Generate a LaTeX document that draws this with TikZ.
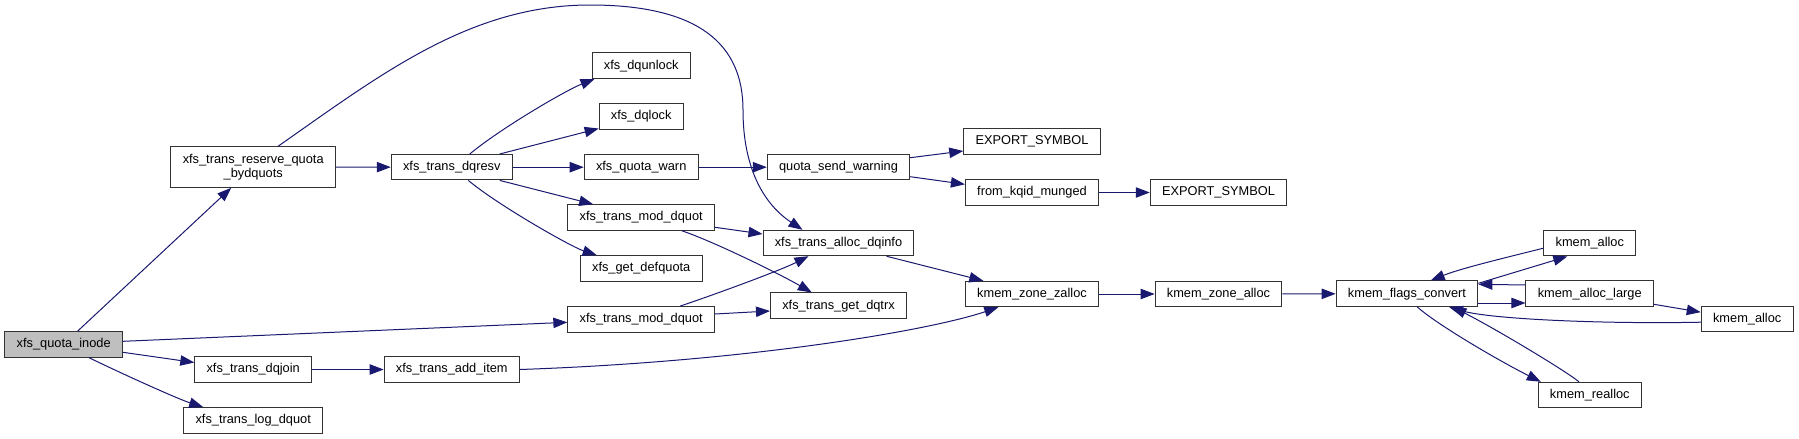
\documentclass[tikz,border=0pt]{standalone}
\usepackage{fontspec}
\setmainfont{Liberation Sans}
\usetikzlibrary{arrows.meta,calc}
\definecolor{edgeblue}{HTML}{191970}
\definecolor{rootgray}{HTML}{BFBFBF}

\begin{document}
\begin{tikzpicture}[
  x=0.75pt, y=-0.75pt,
  font={\fontsize{9.6}{10.5}\selectfont},
  fn/.style={draw=black!80, line width=0.75pt, fill=white, inner xsep=8.85pt,
             inner ysep=2pt, minimum height=19.1pt, align=center},
  root/.style={fn, fill=rootgray},
  call/.style={draw=edgeblue, line width=0.75pt,
               -{Triangle[length=10.5pt,width=7.8pt]}}
]
\useasboundingbox (0,0) rectangle (1799,439);
\node[root] (inode) at (63.7,344.3) {xfs\_quota\_inode};
\node[fn, minimum height=30.5pt] (reserve) at (253.2,167) {xfs\_trans\_reserve\_quota\\\_bydquots};
\node[fn] (dqjoin) at (253.2,369.5) {xfs\_trans\_dqjoin};
\node[fn] (logdq) at (253.2,420.3) {xfs\_trans\_log\_dquot};
\node[fn] (dqresv) at (451.8,167.2) {xfs\_trans\_dqresv};
\node[fn] (additem) at (451.8,369.5) {xfs\_trans\_add\_item};
\node[fn] (dqunlock) at (641.2,65.7) {xfs\_dqunlock};
\node[fn] (dqlock) at (641.2,116.3) {xfs\_dqlock};
\node[fn] (qwarn) at (641.2,167.2) {xfs\_quota\_warn};
\node[fn] (modup) at (641.2,217.5) {xfs\_trans\_mod\_dquot};
\node[fn] (defq) at (641.2,268.3) {xfs\_get\_defquota};
\node[fn] (modlo) at (641.2,319.3) {xfs\_trans\_mod\_dquot};
\node[fn] (sendw) at (838.5,167.2) {quota\_send\_warning};
\node[fn] (dqinfo) at (838.5,243) {xfs\_trans\_alloc\_dqinfo};
\node[fn] (dqtrx) at (838.5,305.7) {xfs\_trans\_get\_dqtrx};
\node[fn] (exsym) at (1032,141.7) {EXPORT\_SYMBOL};
\node[fn] (kqid) at (1032,192.5) {from\_kqid\_munged};
\node[fn] (zzalloc) at (1032,294) {kmem\_zone\_zalloc};
\node[fn] (exsymb) at (1218.5,192.5) {EXPORT\_SYMBOL};
\node[fn] (zalloc) at (1218.5,294) {kmem\_zone\_alloc};
\node[fn] (flags) at (1407,293.7) {kmem\_flags\_convert};
\node[fn] (allocup) at (1589.8,243.2) {kmem\_alloc};
\node[fn] (large) at (1589.7,293.7) {kmem\_alloc\_large};
\node[fn] (realloc) at (1589.8,395) {kmem\_realloc};
\node[fn] (alloclo) at (1747.2,319.2) {kmem\_alloc};
% calls out of the root
\draw[call] ($(inode.north)+(14,0)$) -- ($(reserve.south)+(-22,0)$);
\draw[call] ($(inode.east)+(0,-3)$) -- ($(modlo.west)+(0,3)$);
\draw[call] ($(inode.east)+(0,8)$) -- ($(dqjoin.west)+(0,-7)$);
\draw[call] ($(inode.south)+(25,0)$) .. controls +(35,17) and +(-25,-8) .. ($(logdq.north)+(-50,0)$);
\draw[call] (dqjoin) -- (additem);
% reserve and dqresv
\draw[call] (reserve) -- (dqresv);
\draw[call] ($(reserve.north)+(25,0)$) .. controls (380,75) and (470,5) .. (590,5)
      .. controls (700,5) and (743,45) .. (743,110)
      .. controls (743,170) and (765,205) .. ($(dqinfo.north)+(-36,0)$);
\draw[call] ($(dqresv.north)+(18,0)$) .. controls +(30,-25) and +(-30,12) .. ($(dqunlock.south west)+(3,0)$);
\draw[call] ($(dqresv.north)+(48,0)$) -- ($(dqlock.south west)+(0,-1)$);
\draw[call] (dqresv) -- (qwarn);
\draw[call] ($(dqresv.south)+(48,0)$) -- ($(modup.north)+(-48,0)$);
\draw[call] ($(dqresv.south)+(16.5,0)$) .. controls +(30,25) and +(-25,-8) .. ($(defq.north)+(-44.5,0)$);
% warnings
\draw[call] (qwarn) -- (sendw);
\draw[call] ($(sendw.east)+(0,-9.5)$) -- ($(exsym.west)+(0,9.3)$);
\draw[call] ($(sendw.east)+(0,9.5)$) -- ($(kqid.west)+(0,-8.2)$);
\draw[call] (kqid) -- (exsymb);
% mod_dquot
\draw[call] ($(modup.east)+(0,9.8)$) -- ($(dqinfo.west)+(0,-9)$);
\draw[call] ($(modup.south)+(40.5,0)$) .. controls +(30,10) and +(-35,-20) .. ($(dqtrx.north)+(-26.7,0)$);
\draw[call] ($(modlo.north)+(39,0)$) .. controls +(30,-10) and +(-30,15) .. ($(dqinfo.south)+(-30,0)$);
\draw[call] ($(modlo.east)+(0,-5.3)$) -- ($(dqtrx.west)+(0,5.3)$);
% allocators
\draw[call] ($(dqinfo.south)+(48,0)$) -- ($(zzalloc.north)+(-48.7,0)$);
\draw[call] (additem.east) .. controls +(230,-8) and +(-68,23) .. ($(zzalloc.south)+(-33.7,0)$);
\draw[call] (zzalloc) -- (zalloc);
\draw[call] (zalloc) -- (flags);
\draw[call] ($(flags.east)+(0,-10.4)$) -- ($(allocup.south)+(-22.5,0)$);
\draw[call] ($(allocup.west)+(0,5)$) .. controls +(-40,10) and +(30,-12) .. ($(flags.north)+(23.7,0)$);
\draw[call] ($(large.west)+(0,-8.7)$) -- ($(flags.east)+(0,-9.4)$);
\draw[call] ($(flags.east)+(0,9.3)$) -- ($(large.west)+(0,9.3)$);
\draw[call] ($(large.east)+(0,10.6)$) -- ($(alloclo.west)+(0,-7)$);
\draw[call] ($(alloclo.west)+(0,3)$) .. controls +(-100,2) and +(40,12) .. ($(flags.south)+(42,0)$);
\draw[call] ($(flags.south)+(10.3,0)$) .. controls +(20,18) and +(-40,-20) .. ($(realloc.north)+(-49,0)$);
\draw[call] ($(realloc.north)+(-10.8,0)$) .. controls +(-15,-12) and +(40,20) .. ($(flags.south)+(45.3,0)$);
\end{tikzpicture}
\end{document}
